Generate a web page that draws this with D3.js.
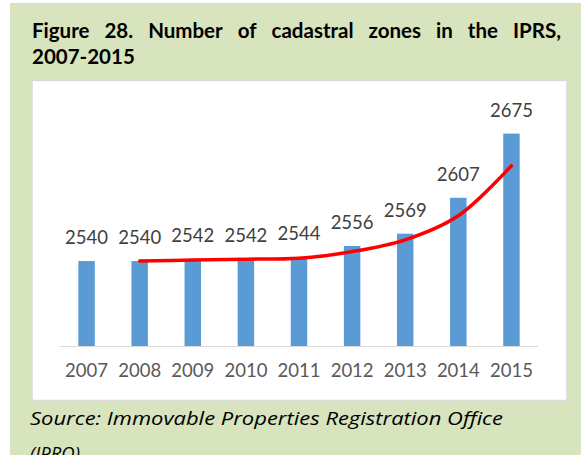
<!DOCTYPE html>
<html>
<head>
<meta charset="utf-8">
<script src="https://cdn.jsdelivr.net/npm/d3@7"></script>
<style>
  body { margin: 0; background: #ffffff; }
  svg { display: block; }
</style>
</head>
<body>
<div id="chart"></div>
<script>
// data
const years = ["2007", "2008", "2009", "2010", "2011", "2012", "2013", "2014", "2015"];
const zones = [2540, 2540, 2542, 2542, 2544, 2556, 2569, 2607, 2675];
// 2-period moving average trend line (as drawn in red)
const trend = [null, 2540, 2541, 2542, 2543, 2550, 2562.5, 2588, 2641];
const titleLine1 = "Figure 28. Number of cadastral zones in the IPRS,";
const titleLine2 = "2007-2015";
const sourceLine1 = "Source: Immovable Properties Registration Office";
const sourceLine2 = "(IPRO)";

const width = 581;
const height = 455;

const svg = d3.select("#chart").append("svg")
    .attr("width", width)
    .attr("height", height);

// green panel
svg.append("rect")
    .attr("x", 10).attr("y", 3)
    .attr("width", width - 10).attr("height", height - 3)
    .attr("fill", "#d7e4bd");

// title, justified on the first line
const title = svg.append("g")
    .attr("font-family", "Lato, 'Open Sans', sans-serif")
    .attr("font-weight", "bold")
    .attr("font-size", 20.5)
    .attr("fill", "#000");

const words = titleLine1.split(" ");
const left = 32, right = 561;
const wordNodes = words.map(w => title.append("text").attr("y", 38).text(w));
const widths = wordNodes.map(n => n.node().getComputedTextLength());
const gap = (right - left - d3.sum(widths)) / (words.length - 1);
let cx = left;
wordNodes.forEach((n, i) => {
    n.attr("x", cx);
    cx += widths[i] + gap;
});
title.append("text").attr("x", left).attr("y", 64).text(titleLine2);

// white chart box
svg.append("rect")
    .attr("x", 32).attr("y", 80.5)
    .attr("width", 535).attr("height", 320)
    .attr("fill", "#fff")
    .attr("stroke", "#d9d9d9")
    .attr("stroke-width", 1.5);

const marginLeft = 60, marginRight = 538, baseY = 346;

const x = d3.scaleBand()
    .domain(years)
    .range([marginLeft, marginRight])
    .paddingInner(0.69)
    .paddingOuter(0.345);

const y = d3.scaleLinear()
    .domain([2450, 2700])
    .range([baseY, 110]);

// bars
svg.append("g")
    .selectAll("rect")
    .data(years)
    .enter()
    .append("rect")
    .attr("x", d => x(d))
    .attr("y", (d, i) => y(zones[i]))
    .attr("width", x.bandwidth())
    .attr("height", (d, i) => baseY - y(zones[i]))
    .attr("fill", "#5b9bd5");

// axis line
svg.append("line")
    .attr("x1", marginLeft).attr("x2", marginRight)
    .attr("y1", baseY + 0.5).attr("y2", baseY + 0.5)
    .attr("stroke", "#d9d9d9")
    .attr("stroke-width", 1);

// x axis labels
const xAxis = svg.append("g")
    .attr("transform", `translate(0,${baseY})`)
    .call(d3.axisBottom(x).tickSize(0).tickPadding(0));
xAxis.select(".domain").remove();
xAxis.selectAll("text")
    .attr("y", 31)
    .attr("dy", 0)
    .attr("font-family", "Lato, sans-serif")
    .attr("font-size", 18.5)
    .attr("fill", "#595959");

// trend line
const line = d3.line()
    .defined(d => d[1] != null)
    .x(d => x(d[0]) + x.bandwidth() / 2)
    .y(d => y(d[1]))
    .curve(d3.curveCatmullRom);

svg.append("path")
    .datum(years.map((yr, i) => [yr, trend[i]]))
    .attr("fill", "none")
    .attr("stroke", "#ff0000")
    .attr("stroke-width", 3.5)
    .attr("stroke-linecap", "round")
    .attr("d", line);

// value labels
svg.append("g")
    .selectAll("text")
    .data(years)
    .enter()
    .append("text")
    .attr("x", d => x(d) + x.bandwidth() / 2)
    .attr("y", (d, i) => y(zones[i]) - 17)
    .attr("text-anchor", "middle")
    .attr("font-family", "Lato, sans-serif")
    .attr("font-size", 18.5)
    .attr("fill", "#404040")
    .text((d, i) => zones[i]);

// source note
const src = svg.append("g")
    .attr("font-family", "'Open Sans', Lato, sans-serif")
    .attr("font-style", "italic")
    .attr("font-size", 18.5)
    .attr("fill", "#000");
src.append("text")
    .attr("x", 30).attr("y", 425)
    .attr("textLength", 473)
    .attr("lengthAdjust", "spacingAndGlyphs")
    .text(sourceLine1);
src.append("text")
    .attr("x", 30).attr("y", 460)
    .text(sourceLine2);
</script>
</body>
</html>
